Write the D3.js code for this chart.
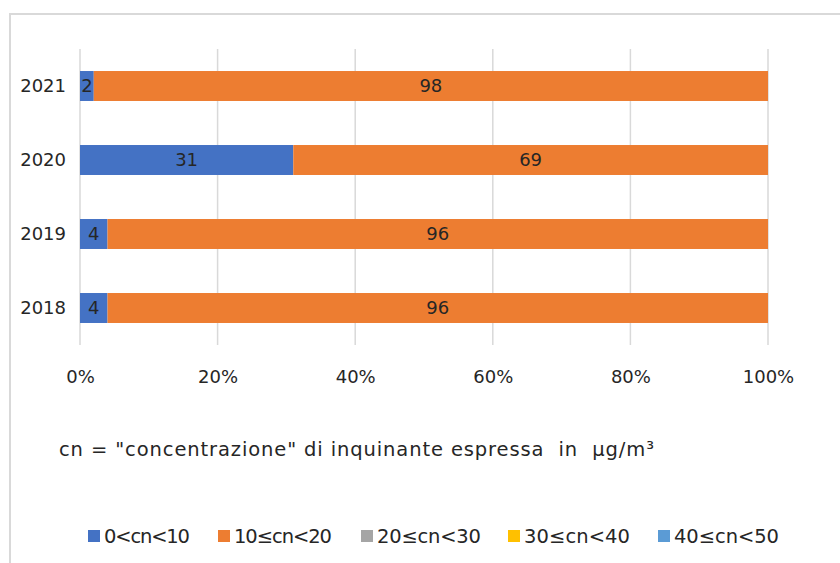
<!DOCTYPE html>
<html><head><meta charset="utf-8">
<script src="https://cdn.jsdelivr.net/npm/d3@7"></script>
<style>
html,body{margin:0;padding:0;background:#fff;}
svg{display:block;font-family:"DejaVu Sans",sans-serif;}
</style></head>
<body>
<svg id="chart" width="840" height="563"></svg>
<script>
const years = ["2021","2020","2019","2018"];
const seriesNames = ["0<cn<10","10\u2264cn<20","20\u2264cn<30","30\u2264cn<40","40\u2264cn<50"];
const seriesColors = ["#4472C4","#ED7D31","#A5A5A5","#FFC000","#5B9BD5"];
const s0 = [2,31,4,4];
const s1 = [98,69,96,96];
const s2 = [0,0,0,0];
const s3 = [0,0,0,0];
const s4 = [0,0,0,0];
const tickValues = [0,0.2,0.4,0.6,0.8,1.0];
const noteText = "cn = \"concentrazione\" di inquinante espressa  in  \u00B5g/m\u00B3";

const seriesVals = [s0,s1,s2,s3,s4];
const rows = years.map((y,i)=>{
  const r = {year:y};
  seriesNames.forEach((n,k)=>r[n]=seriesVals[k][i]);
  return r;
});

const svg = d3.select("#chart");
const textColor = "#262626";
const FS = 18;
const FS2 = 19.5;

// outer border
svg.append("path").attr("d","M10,900 L10,14 L900,14")
  .attr("fill","none").attr("stroke","#d9d9d9").attr("stroke-width",2);

const x = d3.scaleLinear().domain([0,1]).range([80,768]);
const y = d3.scaleBand().domain(years).range([49,345]).paddingInner(0.595).paddingOuter(0.2975);

// gridlines
svg.append("g").selectAll("line").data(tickValues).join("line")
  .attr("x1",d=>x(d)).attr("x2",d=>x(d)).attr("y1",49).attr("y2",345)
  .attr("stroke","#d9d9d9").attr("stroke-width",1.5);

// stacked bars
const stack = d3.stack().keys(seriesNames);
const stacked = stack(rows);
const g = svg.append("g");
stacked.forEach((layer,k)=>{
  g.selectAll(null).data(layer).join("rect")
    .attr("x",d=>x(d[0]/100)).attr("width",d=>x(d[1]/100)-x(d[0]/100))
    .attr("y",d=>y(d.data.year)).attr("height",y.bandwidth())
    .attr("fill",seriesColors[k]);
  g.selectAll(null).data(layer.filter(d=>d[1]-d[0]>0)).join("text")
    .attr("x",d=>(x(d[0]/100)+x(d[1]/100))/2)
    .attr("y",d=>y(d.data.year)+y.bandwidth()/2)
    .attr("dy","0.35em").attr("text-anchor","middle")
    .attr("font-size",FS).attr("fill",textColor)
    .text(d=>d[1]-d[0]);
});

// y axis labels
svg.append("g").selectAll("text").data(years).join("text")
  .attr("x",66).attr("y",d=>y(d)+y.bandwidth()/2).attr("dy","0.35em")
  .attr("text-anchor","end").attr("font-size",FS).attr("fill",textColor).text(d=>d);

// x axis
const xAxis = d3.axisBottom(x).tickValues(tickValues).tickFormat(d3.format(".0%")).tickSize(0).tickPadding(0);
const xa = svg.append("g").attr("transform","translate(0,370)").call(xAxis);
xa.select(".domain").remove();
xa.selectAll("text").attr("font-size",FS).attr("fill",textColor).attr("font-family","DejaVu Sans, sans-serif");

// note
svg.append("text").attr("x",59).attr("y",449).attr("dy","0.35em")
  .attr("font-size",FS2).attr("fill",textColor).attr("xml:space","preserve")
  .attr("textLength",595).attr("lengthAdjust","spacing").text(noteText);

// legend
const legendX = [88,218,361,508,658];
const legendW = [86,98,104,106,105];
const lg = svg.append("g").selectAll("g").data(seriesNames).join("g")
  .attr("transform",(d,i)=>`translate(${legendX[i]},536)`);
lg.append("rect").attr("x",0).attr("y",-6).attr("width",12).attr("height",12).attr("fill",(d,i)=>seriesColors[i]);
lg.append("text").attr("x",16).attr("y",0).attr("dy","0.35em").attr("font-size",FS2).attr("fill",textColor)
  .attr("textLength",(d,i)=>legendW[i]).attr("lengthAdjust","spacing").text(d=>d);
</script>
</body></html>
